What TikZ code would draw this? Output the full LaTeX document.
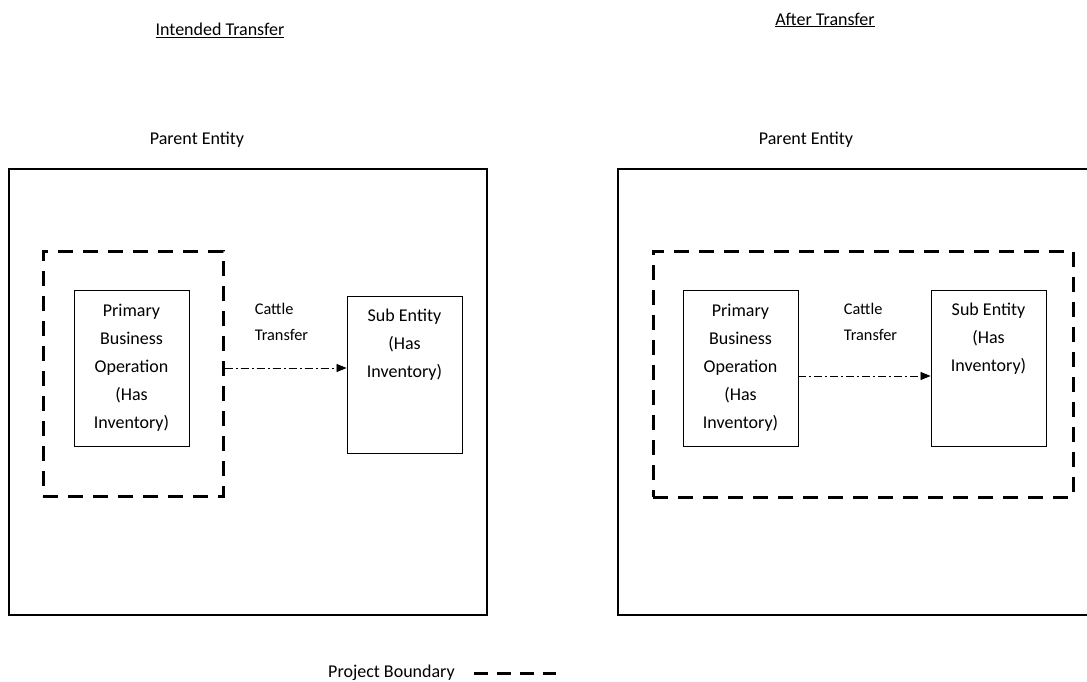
\documentclass[tikz,border=0pt]{standalone}
\usepackage{fontspec}
\setmainfont{Carlito}
\usetikzlibrary{positioning,arrows.meta}
\tikzset{xfer/.style={x=1pt,y=-1pt,font=\fontsize{18}{28}\selectfont},
  parentbox/.style={draw,line width=1.6pt,minimum width=478pt,minimum height=446pt,inner sep=0pt},
  bndbox/.style={draw,line width=3pt,dash pattern=on 15pt off 10pt,inner sep=0pt},
  entbox/.style={draw,line width=0.9pt,minimum width=115pt,inner sep=0pt,align=center},
  txt/.style={inner sep=0pt,align=center},
  flow/.style={line width=0.8pt,dash pattern=on 8pt off 3pt on 2pt off 3pt,-{Triangle[length=10pt,width=8pt]}}}

\begin{document}
\begin{tikzpicture}[xfer]
    \useasboundingbox (0,0) rectangle (1087,681);
    \clip (0,0) rectangle (1087,681);
    % intended transfer
    \node[txt] (titleL) at (220,30) {\underline{Intended Transfer}};
    \node[txt] (parL) at (197,139.5) {Parent Entity};
    \node[parentbox] (entL) at (248,392) {};
    \node[bndbox,minimum width=180pt,minimum height=245pt] (bndL) at (133,373.5) {};
    \node[entbox,minimum height=156pt] (pboL) at (131.5,368) {Primary\\Business\\Operation\\(Has\\Inventory)};
    \node[entbox,minimum height=157pt] (subL) at (404.5,374.5) {};
    \node[txt,below=13.5pt of subL.north] (subLtxt) {Sub Entity\\(Has\\Inventory)};
    \node[txt,align=left,font=\fontsize{16.3}{26}\selectfont] (catL) at (281.5,322) {Cattle\\Transfer};
    \draw[flow] (bndL.east |- pboL.east) -- (pboL.east -| subL.west);
    % after transfer
    \node[txt] (titleR) at (825,20) {\underline{After Transfer}};
    \node[txt] (parR) at (806,139.5) {Parent Entity};
    \node[parentbox] (entR) at (857,392) {};
    \node[bndbox,minimum width=420pt,minimum height=246pt] (bndR) at (863,374) {};
    \node[entbox,minimum height=156pt] (pboR) at (740.5,368) {Primary\\Business\\Operation\\(Has\\Inventory)};
    \node[entbox,minimum height=156pt] (subR) at (988.5,368) {};
    \node[txt,below=13pt of subR.north] (subRtxt) {Sub Entity\\(Has\\Inventory)};
    \node[txt,align=left,font=\fontsize{16.3}{26}\selectfont] (catR) at (870.5,322) {Cattle\\Transfer};
    \draw[flow] ([yshift=-8pt]pboR.east) -- ([yshift=-8pt]pboR.east -| subR.west);
    % legend
    \node[txt] (legend) at (391.5,673) {Project Boundary};
    \coordinate[right=19pt of legend.east] (legA);
    \draw[line width=3pt,dash pattern=on 14pt off 9pt] (legA) -- ++(82,0);
\end{tikzpicture}
\end{document}
